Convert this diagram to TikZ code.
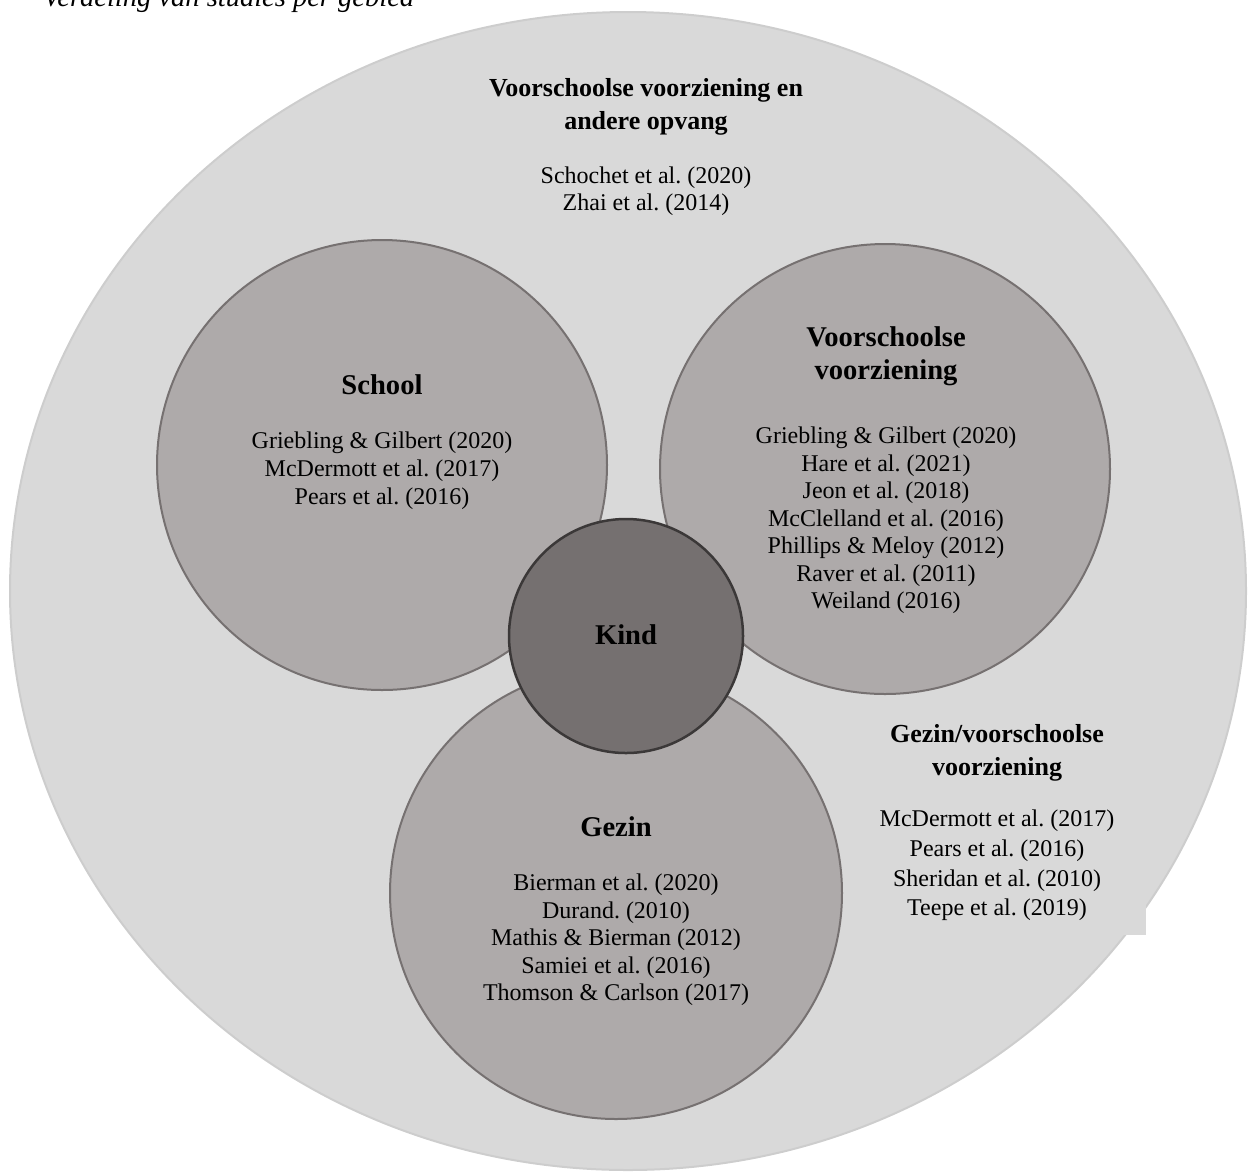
\documentclass[tikz,border=0pt]{standalone}
\usepackage{fontspec}
\usetikzlibrary{shapes.geometric}
\setmainfont{Liberation Serif}
\frenchspacing
\definecolor{outerfill}{HTML}{D9D9D9}
\definecolor{outerline}{HTML}{CDCDCD}
\definecolor{midfill}{HTML}{AEAAAA}
\definecolor{midline}{HTML}{767171}
\definecolor{kindfill}{HTML}{757070}
\definecolor{kindline}{HTML}{3B3838}
\tikzset{
  midcircle/.style={circle, fill=midfill, draw=midline, line width=2pt, minimum size=450pt, inner sep=0pt},
  kindcircle/.style={circle, fill=kindfill, draw=kindline, line width=2.5pt, minimum size=234pt, inner sep=0pt},
  headtxt/.style={font=\fontsize{28.6}{33}\selectfont\bfseries, align=center, inner sep=0pt},
  subhead/.style={font=\fontsize{26}{33}\selectfont\bfseries, align=center, inner sep=0pt},
  reftxt/.style={font=\fontsize{24}{#1}\selectfont, align=center, inner sep=0pt},
  reftxt/.default=27.5
}
\begin{document}
\begin{tikzpicture}[x=1pt,y=-1pt]
\useasboundingbox (0,0) rectangle (1250,1171);
\clip (0,0) rectangle (1250,1171);
% caption
\node[anchor=base west, inner sep=0pt, font=\fontsize{28.5}{32}\selectfont\itshape] (caption) at (43,6) {Verdeling van studies per gebied};
% outer area
\node[ellipse, minimum width=1236pt, minimum height=1158pt, fill=outerfill, draw=outerline, line width=2pt, inner sep=0pt] (outer) at (628,591) {};
\node[rectangle, fill=outerfill, inner sep=0pt, minimum width=280pt, minimum height=230pt, anchor=south east] (gvbox) at (1146,935) {};
% three circles
\node[midcircle] (school) at (382,465) {};
\node[midcircle] (voor) at (885,469) {};
\node[midcircle, minimum size=452pt] (gezin) at (616,893) {};
\node[kindcircle] (kind) at (626,636) {};
% texts
\node[subhead] (titel) at (646,106.5) {Voorschoolse voorziening en\\andere opvang};
\node[reftxt=27] (titelrefs) at (646,191.5) {Schochet et al. (2020)\\Zhai et al. (2014)};
\node[headtxt] (schoolhead) at (382,385) {School};
\node[reftxt=28] (schoolrefs) at (382,471) {Griebling \& Gilbert (2020)\\McDermott et al. (2017)\\Pears et al. (2016)};
\node[headtxt] (voorhead) at (886,356.5) {Voorschoolse\\voorziening};
\node[reftxt=27.5] (voorrefs) at (886,520.5) {Griebling \& Gilbert (2020)\\Hare et al. (2021)\\Jeon et al. (2018)\\McClelland et al. (2016)\\Phillips \& Meloy (2012)\\Raver et al. (2011)\\Weiland (2016)};
\node[headtxt] (kindhead) at (626,635) {Kind};
\node[subhead] (gvhead) at (997,752.5) {Gezin/voorschoolse\\voorziening};
\node[reftxt=29.7] (gvrefs) at (997,865.5) {McDermott et al. (2017)\\Pears et al. (2016)\\Sheridan et al. (2010)\\Teepe et al. (2019)};
\node[headtxt] (gezinhead) at (616,827) {Gezin};
\node[reftxt=27.5] (gezinrefs) at (616,940) {Bierman et al. (2020)\\Durand. (2010)\\Mathis \& Bierman (2012)\\Samiei et al. (2016)\\Thomson \& Carlson (2017)};
\end{tikzpicture}
\end{document}
